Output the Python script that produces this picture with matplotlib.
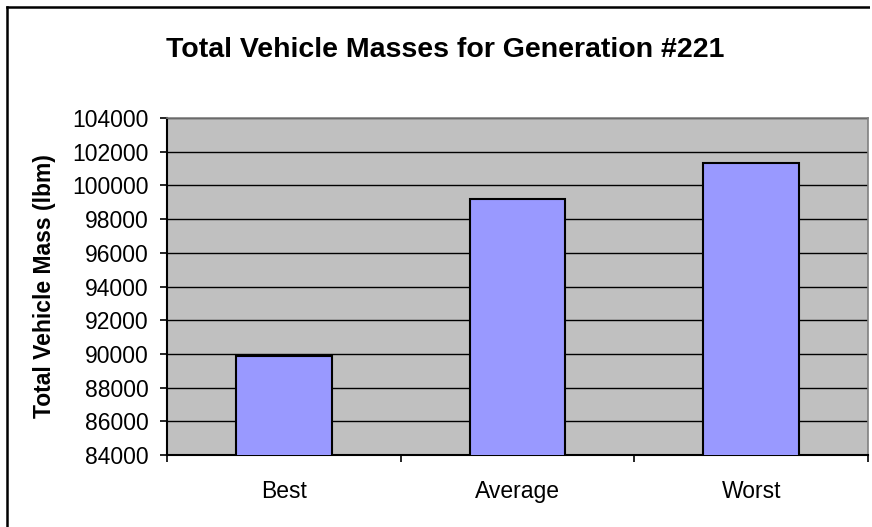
import numpy as np
import matplotlib.pyplot as plt
from matplotlib.lines import Line2D
from matplotlib.patches import Rectangle

# donnees
categories = ["Best", "Average", "Worst"]
masses = [89900, 99200, 101300]
y_ticks = list(range(84000, 104001, 2000))

plt.rcParams['font.family'] = ['Liberation Sans', 'DejaVu Sans']

fig = plt.figure(figsize=(8.72, 5.27), dpi=100)
fig.patch.set_facecolor("white")

# cadre exterieur : seuls les bords haut et gauche sont visibles
bx, by = 6.5 / 872, 1 - 6.5 / 527
fig.add_artist(Line2D([bx, 1.0], [by, by], transform=fig.transFigure,
                      color="black", linewidth=1.8))
fig.add_artist(Line2D([bx, bx], [0.0, by], transform=fig.transFigure,
                      color="black", linewidth=1.8))

ax = fig.add_axes([167 / 872, 1 - 455 / 527, (868 - 167) / 872, (455 - 118) / 527])
ax.set_facecolor("#C0C0C0")

x = np.arange(len(categories))
ax.set_axisbelow(True)
ax.yaxis.grid(True, color="black", linewidth=1.0)
ax.bar(x, masses, width=0.41, color="#9999FF", edgecolor="black", linewidth=1.5, zorder=3)

ax.set_xlim(-0.5, 2.5)
ax.set_ylim(84000, 104000)
ax.set_yticks(y_ticks)
ax.set_yticklabels([str(v) for v in y_ticks], fontsize=16.5)

# ticks aux frontieres entre categories, labels au centre
ax.set_xticks([-0.5, 0.5, 1.5, 2.5])
ax.set_xticklabels([])
ax.set_xticks(x, minor=True)
ax.set_xticklabels(categories, minor=True, fontsize=16.5)
ax.tick_params(axis="x", which="minor", length=0, pad=18)
ax.tick_params(axis="x", which="major", length=5, width=1.2, direction="out")
ax.tick_params(axis="y", length=5, width=1.2, direction="out", pad=8.5)

for side in ["top", "right"]:
    ax.spines[side].set_color("#808080")
    ax.spines[side].set_linewidth(1.2)
for side in ["left", "bottom"]:
    ax.spines[side].set_color("black")
    ax.spines[side].set_linewidth(1.5)

fig.text(44 / 872, 1 - 286 / 527, "Total Vehicle Mass (lbm)", rotation=90,
         ha="center", va="center", fontsize=16.5, fontweight="bold")
fig.text(445 / 872, 1 - 50 / 527, "Total Vehicle Masses for Generation #221",
         ha="center", va="center", fontsize=20.5, fontweight="bold")

# bande blanche au bord droit (pas de cadre a droite)
fig.add_artist(Rectangle((870 / 872, 0), 0.01, 1, transform=fig.transFigure,
                         facecolor="white", edgecolor="none", zorder=10))

fig.savefig("out.png", dpi=100)
